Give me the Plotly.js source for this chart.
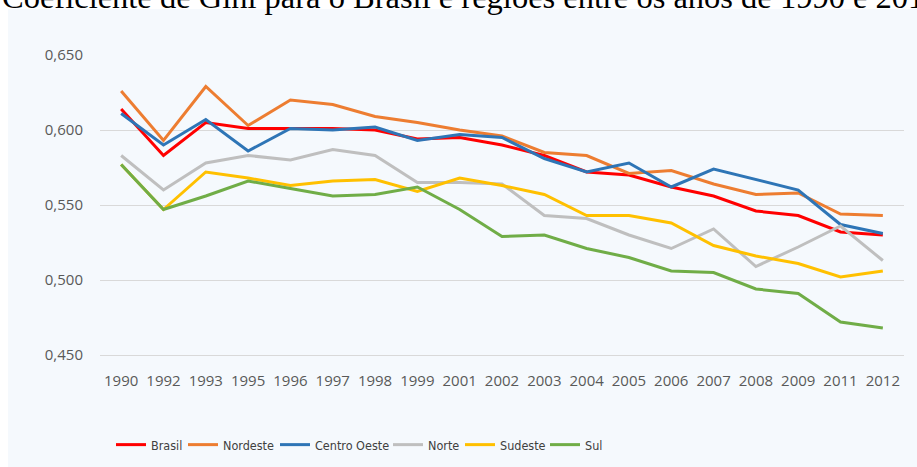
<!DOCTYPE html>
<html>
<head>
<meta charset="utf-8">
<script src="https://cdn.plot.ly/plotly-3.0.1.min.js"></script>
<style>
  html, body { margin: 0; padding: 0; background: #ffffff; }
  #chart { width: 917px; height: 467px; }
</style>
</head>
<body>
<div id="chart"></div>
<script>
const years = ["1990","1992","1993","1995","1996","1997","1998","1999","2001","2002","2003","2004","2005","2006","2007","2008","2009","2011","2012"];
const brasil      = [0.614,0.583,0.605,0.601,0.601,0.601,0.600,0.594,0.595,0.590,0.583,0.572,0.570,0.562,0.556,0.546,0.543,0.532,0.530];
const nordeste    = [0.626,0.593,0.629,0.603,0.620,0.617,0.609,0.605,0.600,0.596,0.585,0.583,0.571,0.573,0.564,0.557,0.558,0.544,0.543];
const centroOeste = [0.611,0.590,0.607,0.586,0.601,0.600,0.602,0.593,0.597,0.595,0.581,0.572,0.578,0.562,0.574,0.567,0.560,0.537,0.531];
const norte       = [0.583,0.560,0.578,0.583,0.580,0.587,0.583,0.565,0.565,0.564,0.543,0.541,0.530,0.521,0.534,0.509,0.522,0.536,0.513];
const sudeste     = [0.577,0.547,0.572,0.568,0.563,0.566,0.567,0.559,0.568,0.563,0.557,0.543,0.543,0.538,0.523,0.516,0.511,0.502,0.506];
const sul         = [0.577,0.547,0.556,0.566,0.561,0.556,0.557,0.562,0.547,0.529,0.530,0.521,0.515,0.506,0.505,0.494,0.491,0.472,0.468];

const seriesNames  = ["Brasil","Nordeste","Centro Oeste","Norte","Sudeste","Sul"];
const seriesValues = [brasil, nordeste, centroOeste, norte, sudeste, sul];
const seriesColors = ["#FF0000","#ED7D31","#2E75B6","#BFBFBF","#FFC000","#70AD47"];

// plot area in pixels: left 100, right 904, top 55, bottom 355
const L = 100, R = 904, T = 55, B = 355;
const W = R - L, H = B - T;
const px = v => (v - L) / W;
const py = v => (B - v) / H;

// legend entry left positions (pixels) – one small legend per series
const legendX = [111, 183, 275, 388, 460, 545];
const legendIds = seriesNames.map((n, i) => i === 0 ? "legend" : "legend" + (i + 1));

const traces = seriesNames.map((name, i) => ({
  type: "scatter",
  mode: "lines",
  name: name,
  x: years,
  y: seriesValues[i],
  line: { color: seriesColors[i], width: 3 },
  legend: legendIds[i],
  hoverinfo: "x+y+name"
}));

const layout = {
  width: 917, height: 467,
  margin: { l: L, r: 917 - R, t: T, b: 467 - B, pad: 0, autoexpand: false },
  paper_bgcolor: "#ffffff",
  plot_bgcolor: "rgba(0,0,0,0)",
  separators: ",.",
  showlegend: true,
  font: { family: "Open Sans, sans-serif", color: "#595959", size: 15 },
  xaxis: {
    type: "category",
    range: [-0.5, years.length - 0.5],
    showgrid: false,
    zeroline: false,
    showline: true,
    linecolor: "#D9D9D9",
    linewidth: 1,
    ticks: "",
    ticklabelstandoff: 12,
    tickfont: { family: "Open Sans, sans-serif", size: 15, color: "#595959" },
    fixedrange: true
  },
  yaxis: {
    range: [0.45, 0.65],
    tickvals: [0.45, 0.50, 0.55, 0.60, 0.65],
    tickformat: ".3f",
    showgrid: true,
    gridcolor: "#D9D9D9",
    gridwidth: 1,
    zeroline: false,
    showline: false,
    ticks: "",
    ticklabelstandoff: 16,
    tickfont: { family: "Open Sans, sans-serif", size: 15, color: "#595959" },
    fixedrange: true
  },
  shapes: [{
    type: "rect", xref: "paper", yref: "paper", layer: "below",
    x0: px(8), x1: px(917), y0: py(467), y1: py(9),
    fillcolor: "#F5F9FD", line: { width: 0 }
  }],
  annotations: [{
    text: "Coeficiente de Gini para o Brasil e regiões entre os anos de 1990 e 2012",
    xref: "paper", yref: "paper",
    x: px(0), xanchor: "left",
    y: py(-3), yanchor: "middle",
    showarrow: false,
    font: { family: "Liberation Serif, Times New Roman, serif", size: 32.5, color: "#000000" }
  }]
};

legendIds.forEach((id, i) => {
  layout[id] = {
    orientation: "h",
    x: px(legendX[i]), xanchor: "left",
    y: py(445), yanchor: "middle",
    bgcolor: "rgba(0,0,0,0)",
    font: { family: "Liberation Sans Narrow, DejaVu Sans Condensed, sans-serif", size: 12.5, color: "#404040" },
    itemwidth: 30
  };
});

Plotly.newPlot("chart", traces, layout, { displayModeBar: false, staticPlot: true });
</script>
</body>
</html>
